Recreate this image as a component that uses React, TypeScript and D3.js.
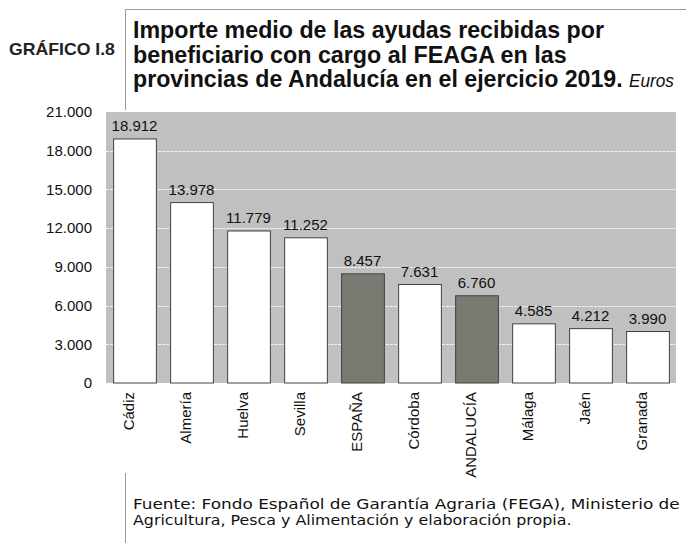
import React, { useLayoutEffect, useRef, useState } from "react";
import * as d3 from "d3";

const categories = ["Cádiz", "Almería", "Huelva", "Sevilla", "ESPAÑA", "Córdoba", "ANDALUCÍA", "Málaga", "Jaén", "Granada"];
const values = [18912, 13978, 11779, 11252, 8457, 7631, 6760, 4585, 4212, 3990];
const highlighted = ["ESPAÑA", "ANDALUCÍA"];
const yTicks = [0, 3000, 6000, 9000, 12000, 15000, 18000, 21000];
const titleLines = [
  "Importe medio de las ayudas recibidas por",
  "beneficiario con cargo al FEAGA en las",
  "provincias de Andalucía en el ejercicio 2019.",
];
const sourceLines = [
  "Fuente: Fondo Español de Garantía Agraria (FEGA), Ministerio de",
  "Agricultura, Pesca y Alimentación y elaboración propia.",
];

const W = 686;
const H = 543;
const plot = { left: 106, right: 676, top: 112, bottom: 383 };

const fmt = (v: number) => d3.format(",")(v).replace(/,/g, ".");

type FitProps = {
  x: number;
  y: number;
  width: number;
  children: string;
  [k: string]: any;
};

// Text squeezed horizontally (like a narrow font) to a target width via a transform.
function FitText({ x, y, width, children, ...rest }: FitProps) {
  const ref = useRef<SVGTextElement>(null);
  const [k, setK] = useState(1);
  useLayoutEffect(() => {
    if (ref.current) {
      const w = ref.current.getComputedTextLength();
      if (w > 0) setK(width / w);
    }
  }, [width, children]);
  return (
    <text ref={ref} transform={`translate(${x},${y}) scale(${k},1)`} {...rest}>
      {children}
    </text>
  );
}

export default function App() {
  const x = d3
    .scaleBand<string>()
    .domain(categories)
    .range([plot.left, plot.right])
    .paddingInner(0.25)
    .paddingOuter(0.125);
  const y = d3.scaleLinear().domain([0, 21000]).range([plot.bottom, plot.top]);

  const titleWidths = [471, 434, 490];
  const titleBase = [38, 62.5, 87];
  const sourceWidths = [547, 439];
  const sourceBase = [509, 525];

  return (
    <svg
      width={W}
      height={H}
      style={{ position: "absolute", left: 0, top: 0, background: "#fff" }}
      fontFamily="'Liberation Sans', Arial, sans-serif"
    >
      {/* frame lines */}
      <line x1={125.5} x2={W} y1={9.5} y2={9.5} stroke="#9a9a9a" strokeWidth={1} />
      <line x1={125.5} x2={125.5} y1={9.5} y2={110} stroke="#9a9a9a" strokeWidth={1} />
      <line x1={125.5} x2={125.5} y1={473} y2={H} stroke="#9a9a9a" strokeWidth={1} />

      <FitText x={9} y={55} width={106} fontSize={16} fontWeight="bold" fill="#222">
        GRÁFICO I.8
      </FitText>

      {titleLines.map((t, i) => (
        <FitText key={i} x={133} y={titleBase[i]} width={titleWidths[i]} fontSize={24} fontWeight="bold" fill="#111">
          {t}
        </FitText>
      ))}
      <FitText x={629} y={87} width={45} fontSize={18} fontStyle="italic" fill="#111">
        Euros
      </FitText>

      {/* plot background */}
      <rect x={plot.left} y={plot.top} width={plot.right - plot.left} height={plot.bottom - plot.top} fill="#c0c0c0" />
      {yTicks
        .filter((t) => t > 0 && t < 21000)
        .map((t) => (
          <line
            key={t}
            x1={plot.left}
            x2={plot.right}
            y1={Math.round(y(t)) + 0.5}
            y2={Math.round(y(t)) + 0.5}
            stroke="#f2f2f2"
            strokeWidth={1}
            strokeDasharray="3,1"
          />
        ))}

      {yTicks.map((t) => (
        <text key={t} x={92} y={y(t)} dy="0.35em" textAnchor="end" fontSize={15} fill="#111">
          {fmt(t)}
        </text>
      ))}

      {categories.map((c, i) => {
        const x0 = x(c)!;
        const bw = x.bandwidth();
        const top = y(values[i]);
        const cx = x0 + bw / 2;
        return (
          <g key={c}>
            <rect
              x={x0 + 0.5}
              y={top}
              width={bw}
              height={plot.bottom - top}
              fill={highlighted.includes(c) ? "#7a7a72" : "#ffffff"}
              stroke="#404040"
              strokeWidth={1}
            />
            <text x={cx} y={top - 8} textAnchor="middle" fontSize={15} fill="#111">
              {fmt(values[i])}
            </text>
            <text
              transform={`translate(${cx - 1},392) rotate(-90)`}
              textAnchor="end"
              fontSize={15}
              fill="#111"
            >
              {c}
            </text>
          </g>
        );
      })}

      {sourceLines.map((t, i) => (
        <FitText
          key={i}
          x={133}
          y={sourceBase[i]}
          width={sourceWidths[i]}
          fontSize={14}
          fontFamily="'DejaVu Sans Condensed', 'DejaVu Sans', sans-serif"
          fill="#111"
        >
          {t}
        </FitText>
      ))}
    </svg>
  );
}
